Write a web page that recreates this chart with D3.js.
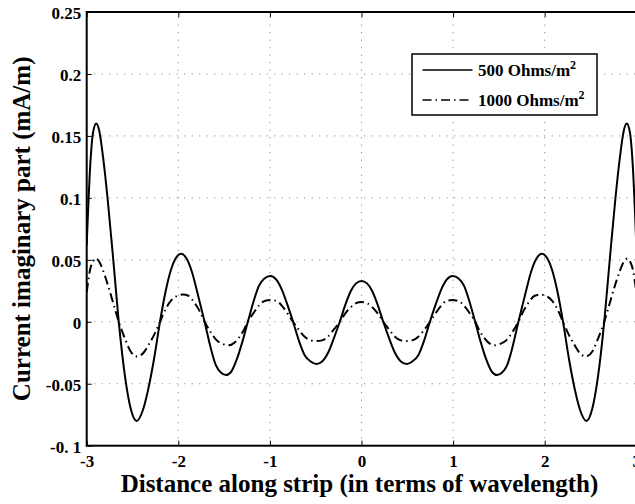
<!DOCTYPE html>
<html>
<head>
<meta charset="utf-8">
<script src="https://cdn.jsdelivr.net/npm/d3@7"></script>
<style>
  html, body { margin: 0; padding: 0; background: #fff; }
  svg { display: block; }
  text { font-family: "Liberation Serif", "Times New Roman", serif; font-weight: bold; fill: #000; }
</style>
</head>
<body>
<svg id="chart" width="635" height="504"></svg>
<script>
// ---- data ----
const xTicks = [-3, -2, -1, 0, 1, 2, 3];
const yTicks = [-0.1, -0.05, 0, 0.05, 0.1, 0.15, 0.2, 0.25];
const yTickLabels = ["-0. 1", "-0.05", "0", "0.05", "0.1", "0.15", "0.2", "0.25"];
const seriesNames = ["500 Ohms/m", "1000 Ohms/m"];

const dist500 = [-3.0, -2.96, -2.93, -2.895, -2.86, -2.82, -2.77, -2.71, -2.65, -2.58, -2.52, -2.455, -2.39, -2.33, -2.265, -2.20,
  -2.14, -2.08, -2.03, -1.968, -1.91, -1.85, -1.79, -1.713, -1.65, -1.59, -1.535, -1.478, -1.42, -1.36, -1.30, -1.241,
  -1.18, -1.12, -1.06, -0.995, -0.93, -0.87, -0.81, -0.747, -0.68, -0.62, -0.555, -0.492, -0.43, -0.365, -0.30, -0.237,
  -0.175, -0.115, -0.06, 0,
  0.06, 0.115, 0.175, 0.237, 0.30, 0.365, 0.43, 0.492, 0.555, 0.62, 0.68, 0.747, 0.81, 0.87, 0.93, 0.995,
  1.06, 1.12, 1.18, 1.241, 1.30, 1.36, 1.42, 1.478, 1.535, 1.59, 1.65, 1.713, 1.79, 1.85, 1.91, 1.968,
  2.03, 2.08, 2.14, 2.20, 2.265, 2.33, 2.39, 2.455, 2.52, 2.58, 2.65, 2.71, 2.77, 2.82, 2.86, 2.895, 2.93, 2.96, 3.0];
const current500 = [0.062, 0.128, 0.153, 0.160, 0.153, 0.132, 0.098, 0.050, 0.0, -0.045, -0.070, -0.080, -0.072, -0.055, -0.030, 0.0,
  0.024, 0.042, 0.051, 0.055, 0.051, 0.040, 0.023, 0.0, -0.020, -0.035, -0.041, -0.043, -0.040, -0.030, -0.016, 0.0,
  0.016, 0.029, 0.035, 0.037, 0.034, 0.026, 0.014, 0.0, -0.016, -0.027, -0.032, -0.034, -0.032, -0.025, -0.013, 0.0,
  0.014, 0.025, 0.031, 0.033,
  0.031, 0.025, 0.014, 0.0, -0.013, -0.025, -0.032, -0.034, -0.032, -0.027, -0.016, 0.0, 0.014, 0.026, 0.034, 0.037,
  0.035, 0.029, 0.016, 0.0, -0.016, -0.030, -0.040, -0.043, -0.041, -0.035, -0.020, 0.0, 0.023, 0.040, 0.051, 0.055,
  0.051, 0.042, 0.024, 0.0, -0.030, -0.055, -0.072, -0.080, -0.070, -0.045, 0.0, 0.050, 0.098, 0.132, 0.153, 0.160, 0.153, 0.128, 0.062];

const dist1000 = [-3.0, -2.96, -2.93, -2.90, -2.86, -2.82, -2.77, -2.71, -2.65, -2.58, -2.52, -2.45, -2.38, -2.32, -2.26, -2.20,
  -2.14, -2.08, -2.01, -1.95, -1.89, -1.83, -1.77, -1.713, -1.65, -1.58, -1.51, -1.45, -1.39, -1.33, -1.28, -1.241,
  -1.18, -1.12, -1.05, -0.99, -0.93, -0.87, -0.81, -0.747, -0.68, -0.62, -0.555, -0.492, -0.43, -0.365, -0.30, -0.237,
  -0.175, -0.115, -0.06, 0,
  0.06, 0.115, 0.175, 0.237, 0.30, 0.365, 0.43, 0.492, 0.555, 0.62, 0.68, 0.747, 0.81, 0.87, 0.93, 0.99,
  1.05, 1.12, 1.18, 1.241, 1.28, 1.33, 1.39, 1.45, 1.51, 1.58, 1.65, 1.713, 1.77, 1.83, 1.89, 1.95,
  2.01, 2.08, 2.14, 2.20, 2.26, 2.32, 2.38, 2.45, 2.52, 2.58, 2.65, 2.71, 2.77, 2.82, 2.86, 2.90, 2.93, 2.96, 3.0];
const current1000 = [0.024, 0.043, 0.049, 0.051, 0.048, 0.041, 0.030, 0.015, 0.0, -0.014, -0.024, -0.028, -0.025, -0.018, -0.010, 0.0,
  0.010, 0.017, 0.021, 0.022, 0.021, 0.016, 0.009, 0.0, -0.008, -0.015, -0.018, -0.019, -0.017, -0.012, -0.006, 0.0,
  0.007, 0.013, 0.017, 0.0175, 0.017, 0.013, 0.007, 0.0, -0.007, -0.012, -0.015, -0.0155, -0.015, -0.012, -0.006, 0.0,
  0.007, 0.012, 0.015, 0.016,
  0.015, 0.012, 0.007, 0.0, -0.006, -0.012, -0.015, -0.0155, -0.015, -0.012, -0.007, 0.0, 0.007, 0.013, 0.017, 0.0175,
  0.017, 0.013, 0.007, 0.0, -0.006, -0.012, -0.017, -0.019, -0.018, -0.015, -0.008, 0.0, 0.009, 0.016, 0.021, 0.022,
  0.021, 0.017, 0.010, 0.0, -0.010, -0.018, -0.025, -0.028, -0.024, -0.014, 0.0, 0.015, 0.030, 0.041, 0.048, 0.051, 0.049, 0.043, 0.024];

// ---- layout ----
const svg = d3.select("#chart");
const L = 86.7, R = 636.3, T = 12, B = 445.7;
const x = d3.scaleLinear().domain([-3, 3]).range([L, R]);
const y = d3.scaleLinear().domain([-0.1, 0.25]).range([B, T]);

svg.append("defs").append("clipPath").attr("id", "clip")
  .append("rect").attr("x", L).attr("y", T).attr("width", R - L).attr("height", B - T);

// grid
const grid = svg.append("g").attr("stroke", "#7a7a7a").attr("stroke-width", 1).attr("stroke-dasharray", "1,6.5");
grid.selectAll("line.v").data(xTicks.slice(1, -1)).join("line")
  .attr("x1", d => x(d)).attr("x2", d => x(d)).attr("y1", B).attr("y2", T);
grid.selectAll("line.h").data(yTicks.slice(1, -1)).join("line")
  .attr("y1", d => y(d)).attr("y2", d => y(d)).attr("x1", L).attr("x2", R);

// curves
const plot = svg.append("g").attr("clip-path", "url(#clip)");
const line = d3.line().x(d => x(d[0])).y(d => y(d[1])).curve(d3.curveMonotoneX);
plot.append("path").datum(d3.zip(dist500, current500)).attr("d", line)
  .attr("fill", "none").attr("stroke", "#000").attr("stroke-width", 2);
plot.append("path").datum(d3.zip(dist1000, current1000)).attr("d", line)
  .attr("fill", "none").attr("stroke", "#000").attr("stroke-width", 2)
  .attr("stroke-dasharray", "9,4,1.5,4");

// axes (frame + inward ticks)
const xAxisB = d3.axisBottom(x).tickValues(xTicks).tickSize(-5).tickFormat(d => d);
const gx = svg.append("g").attr("transform", `translate(0,${B})`).call(xAxisB);
gx.select(".domain").remove();
gx.selectAll(".tick line").attr("stroke", "#000").attr("stroke-width", 1);
gx.selectAll(".tick text").attr("y", 0).attr("dy", "21.5px")
  .style("font-size", "17px").style("font-family", "Liberation Serif").style("font-weight", "bold");

const xAxisT = d3.axisTop(x).tickValues(xTicks).tickSize(-5).tickFormat("");
const gxt = svg.append("g").attr("transform", `translate(0,${T})`).call(xAxisT);
gxt.select(".domain").remove();
gxt.selectAll(".tick line").attr("stroke", "#000");

const yAxisL = d3.axisLeft(y).tickValues(yTicks).tickSize(-5).tickFormat((d, i) => yTickLabels[i]);
const gy = svg.append("g").attr("transform", `translate(${L},0)`).call(yAxisL);
gy.select(".domain").remove();
gy.selectAll(".tick line").attr("stroke", "#000");
gy.selectAll(".tick text").attr("x", -5.5).attr("dy", "6.5px")
  .style("font-size", "17px").style("font-family", "Liberation Serif").style("font-weight", "bold");

// frame lines
svg.append("rect").attr("x", L).attr("y", T).attr("width", R - L).attr("height", B - T)
  .attr("fill", "none").attr("stroke", "#000").attr("stroke-width", 2);

// axis titles
svg.append("text").attr("x", (L + R) / 2 - 2).attr("y", 492).attr("text-anchor", "middle")
  .style("font-size", "25px").text("Distance along strip (in terms of wavelength)");
svg.append("text").attr("transform", `translate(30,${(T + B) / 2}) rotate(-90)`).attr("text-anchor", "middle")
  .style("font-size", "25px").text("Current imaginary part (mA/m)");

// legend
const lg = svg.append("g");
lg.append("rect").attr("x", 412).attr("y", 54).attr("width", 185).attr("height", 61)
  .attr("fill", "#fff").attr("stroke", "#000").attr("stroke-width", 1.5);
const legendRows = [{ name: seriesNames[0], dash: null, yy: 70 }, { name: seriesNames[1], dash: "9,4,1.5,4", yy: 100 }];
legendRows.forEach(r => {
  const l = lg.append("line").attr("x1", 422.5).attr("x2", 472.5).attr("y1", r.yy).attr("y2", r.yy)
    .attr("stroke", "#000").attr("stroke-width", 1.5);
  if (r.dash) l.attr("stroke-dasharray", r.dash);
  const t = lg.append("text").attr("x", 478).attr("y", r.yy + 6).style("font-size", "17px");
  t.append("tspan").text(r.name);
  t.append("tspan").attr("dy", -7).style("font-size", "12px").text("2");
});
</script>
</body>
</html>
